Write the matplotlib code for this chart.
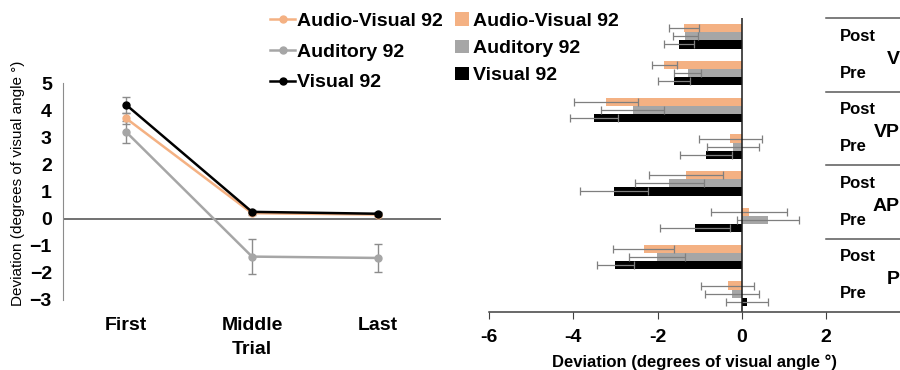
import numpy as np
import matplotlib
matplotlib.use("Agg")
import matplotlib.pyplot as plt
from matplotlib.lines import Line2D

plt.rcParams['font.family'] = ['Liberation Sans', 'DejaVu Sans']

# ---- data: left panel (deviation per trial) ----
trials = ["First", "Middle", "Last"]
series = ["Audio-Visual 92", "Auditory 92", "Visual 92"]
colors = ["#F4B183", "#A6A6A6", "#000000"]
line_vals = {
    "Audio-Visual 92": [3.7, 0.2, 0.15],
    "Auditory 92": [3.2, -1.4, -1.45],
    "Visual 92": [4.2, 0.25, 0.18],
}
line_errs = {
    "Audio-Visual 92": [0.2, 0.05, 0.05],
    "Auditory 92": [0.4, 0.65, 0.5],
    "Visual 92": [0.3, 0.05, 0.05],
}

# ---- data: right panel (pre/post per condition) ----
conditions = ["V", "VP", "AP", "P"]
phases = ["Post", "Pre"]
bar_vals = {
    "Audio-Visual 92": [-1.38, -1.84, -3.22, -0.28, -1.32, 0.17, -2.33, -0.34],
    "Auditory 92": [-1.34, -1.29, -2.59, -0.21, -1.72, 0.62, -2.02, -0.24],
    "Visual 92": [-1.50, -1.60, -3.51, -0.85, -3.04, -1.11, -3.00, 0.12],
}
bar_errs = {
    "Audio-Visual 92": [0.35, 0.29, 0.76, 0.75, 0.88, 0.90, 0.73, 0.63],
    "Auditory 92": [0.29, 0.32, 0.75, 0.62, 0.81, 0.73, 0.66, 0.64],
    "Visual 92": [0.36, 0.38, 0.57, 0.61, 0.81, 0.83, 0.44, 0.49],
}
bar_ticks = [-6, -4, -2, 0, 2]

big = 14

fig = plt.figure(figsize=(9, 3.7), dpi=100)

# ---------------- left panel ----------------
ax1 = fig.add_axes([63 / 900, 70 / 370, 378 / 900, 217 / 370])
x = np.arange(len(trials))
handles = []
for name, c in zip(series, colors):
    ax1.errorbar(x, line_vals[name], yerr=line_errs[name], color=c,
                 ecolor="#8C8C8C", elinewidth=1, capsize=3, capthick=1,
                 marker="o", markersize=5, linewidth=1.8)
    handles.append(Line2D([], [], color=c, marker="o", markersize=5,
                          linewidth=1.8, label=name))
ax1.axhline(0, color="#595959", lw=1.2, zorder=0)
ax1.set_xlim(-0.5, 2.5)
ax1.set_ylim(-3, 5)
ax1.set_yticks(range(-3, 6))
ax1.set_xticks(x)
ax1.set_xticklabels(trials, fontsize=big, fontweight="bold")
for lab in ax1.get_yticklabels():
    lab.set_fontsize(big)
    lab.set_fontweight("bold")
ax1.tick_params(axis="both", length=0)
ax1.tick_params(axis="x", pad=12)
ax1.tick_params(axis="y", pad=8)
for s in ["top", "right", "bottom"]:
    ax1.spines[s].set_visible(False)
ax1.spines["left"].set_color("#8C8C8C")
ax1.set_xlabel("Trial", fontsize=big, fontweight="bold", labelpad=5)
ax1.set_ylabel("Deviation (degrees of visual angle °)", fontsize=11)
ax1.yaxis.set_label_coords(-0.1, 0.54)
ax1.legend(handles=handles, loc="upper left", bbox_to_anchor=(270 / 900, 0.967),
           bbox_transform=fig.transFigure, frameon=False,
           prop={"size": big, "weight": "bold"}, handlelength=1.3,
           handletextpad=0.1, labelspacing=0.68, borderaxespad=0, borderpad=0)

# ---------------- right panel ----------------
ax2 = fig.add_axes([489 / 900, 58 / 370, 411 / 900, 294 / 370])
n = len(conditions) * len(phases)
pos = np.arange(n)
h = 0.22
offsets = [-h, 0, h]
for name, c, off in zip(series, colors, offsets):
    ax2.barh(pos + off, bar_vals[name], height=h, color=c, label=name)
    ax2.errorbar(bar_vals[name], pos + off, xerr=bar_errs[name], fmt="none",
                 ecolor="#7F7F7F", elinewidth=0.9, capsize=3, capthick=0.9)
ax2.set_ylim(n - 0.5, -0.5)
ax2.set_xlim(-6, 3.75)
ax2.axvline(0, color="#1a1a1a", lw=1.1)
ax2.set_xticks(bar_ticks)
ax2.set_xticklabels([str(t) for t in bar_ticks], fontsize=big, fontweight="bold")
ax2.tick_params(axis="x", length=5, color="#404040", pad=7)
ax2.set_yticks([])
for s in ["top", "right", "left"]:
    ax2.spines[s].set_visible(False)
ax2.spines["bottom"].set_color("#404040")
ax2.spines["bottom"].set_linewidth(1.1)
ax2.set_xlabel("Deviation (degrees of visual angle °)", fontsize=12,
               fontweight="bold")
ax2.xaxis.set_label_coords(0.5, -0.145)

# multi-level category labels on the right side
for g, cond in enumerate(conditions):
    top = g * 2 - 0.5
    ax2.plot([2, 3.75], [top, top], color="#595959", lw=1.1, clip_on=False)
    for k, ph in enumerate(phases):
        ax2.text(2.33, g * 2 + k, ph, fontsize=12, fontweight="bold",
                 ha="left", va="center")
    ax2.text(1.0, g * 2 + 0.62, cond, transform=ax2.get_yaxis_transform(),
             fontsize=big, fontweight="bold", ha="right", va="center")

ax2.legend(loc="upper left", bbox_to_anchor=(455 / 900, 0.967),
           bbox_transform=fig.transFigure, frameon=False,
           prop={"size": big, "weight": "bold"}, handlelength=0.7,
           handleheight=0.7, handletextpad=0.25, labelspacing=0.5,
           borderaxespad=0, borderpad=0)

fig.savefig("out.png", dpi=100)
